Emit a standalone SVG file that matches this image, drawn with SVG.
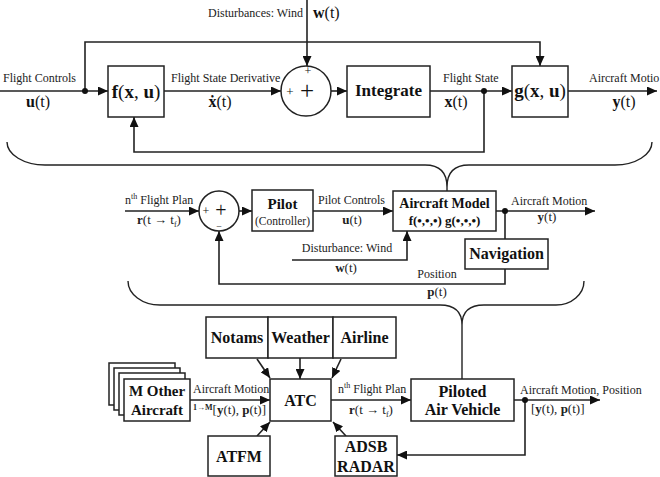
<svg xmlns="http://www.w3.org/2000/svg" width="660" height="477" viewBox="0 0 660 477">
<defs>
<marker id="ah" markerWidth="11" markerHeight="9" refX="10" refY="4.5" orient="auto" markerUnits="userSpaceOnUse">
<path d="M0,0 L10,4.5 L0,9 Z" fill="#111"/>
</marker>
<style>
.box{fill:#fff;stroke:#222;stroke-width:1.5}
.ln{fill:none;stroke:#222;stroke-width:1.6}
.ar{fill:none;stroke:#222;stroke-width:1.6;marker-end:url(#ah)}
.br{fill:none;stroke:#222;stroke-width:1.4}
.lab{font-family:"Liberation Serif",serif;font-size:12px;fill:#222}
.m{font-family:"Liberation Serif",serif;font-size:15px;fill:#111}
.b{font-weight:bold}
.bt{font-family:"Liberation Serif",serif;font-weight:bold;fill:#111;text-anchor:middle}
.dot{fill:#111}
</style>
</defs>
<rect width="660" height="477" fill="#fff"/>

<g id="connectors">
<path class="ar" d="M0,91 H108"/>
<path class="ar" d="M85,91 V42 H540 V66"/>
<path class="ar" d="M164,91 H281"/>
<path class="ar" d="M307,0 V66"/>
<path class="ar" d="M331,91 H347"/>
<path class="ar" d="M430,91 H512"/>
<path class="ar" d="M484,91 V152 H134 V117"/>
<path class="ar" d="M568,91 H657"/>
<circle class="dot" cx="85" cy="91" r="3"/>
<circle class="dot" cx="484" cy="91" r="3"/>
<path class="br" d="M7,142 A38,23 0 0 0 45,165 H425 Q447,165 447,187 V191 M447,187 Q447,165 469,165 H615 A37,23 0 0 0 652,142"/>
<path class="ar" d="M125,211 H199"/>
<path class="ar" d="M239,211 H252"/>
<path class="ar" d="M313,211 H393"/>
<path class="ar" d="M496,211 H595"/>
<path class="ln" d="M505,211 V239"/>
<path class="ar" d="M505,269 V284 H219 V231"/>
<path class="ar" d="M292,260 H407 V231"/>
<circle class="dot" cx="505" cy="211" r="3"/>
<path class="br" d="M128,281 A32,24 0 0 0 160,305 H440 Q462,305 462,325 V379 M462,325 Q462,305 484,305 H556 A28,24 0 0 0 584,281"/>
<path class="ar" d="M257,359 L270,378"/>
<path class="ar" d="M300,358 V379"/>
<path class="ar" d="M341,359 L332,378"/>
<path class="ar" d="M257,436 L270,422"/>
<path class="ar" d="M346,436 L333,422"/>
<path class="ar" d="M190,400 H270"/>
<path class="ar" d="M331,400 H411"/>
<path class="ar" d="M514,400 H600"/>
<path class="ar" d="M525,400 V455 H397"/>
<circle class="dot" cx="525" cy="400" r="3"/>
</g>

<g id="labels">
<text class="lab" x="3" y="82">Flight Controls</text>
<text class="m" x="38" y="107" text-anchor="middle" style="font-size:16px"><tspan class="b">u</tspan>(t)</text>
<text class="lab" x="171" y="82">Flight State Derivative</text>
<text class="m" x="220" y="107" text-anchor="middle" style="font-size:16px"><tspan class="b">ẋ</tspan>(t)</text>
<text class="lab" x="303" y="17" text-anchor="end">Disturbances: Wind</text>
<text class="m" x="313" y="18" style="font-size:16px"><tspan class="b">w</tspan>(t)</text>
<text class="lab" x="443" y="82">Flight State</text>
<text class="m" x="456" y="107" text-anchor="middle" style="font-size:16px"><tspan class="b">x</tspan>(t)</text>
<text class="lab" x="589" y="82">Aircraft Motio</text>
<text class="m" x="624" y="107" text-anchor="middle" style="font-size:16px"><tspan class="b">y</tspan>(t)</text>

<text class="lab" x="125" y="204">n<tspan font-size="8" dy="-5">th</tspan><tspan dy="5"> Flight Plan</tspan></text>
<text class="lab" x="159" y="224" text-anchor="middle" style="font-size:13px"><tspan class="b">r</tspan>(t → t<tspan font-size="8" dy="3">f</tspan><tspan dy="-3">)</tspan></text>
<text class="lab" x="318" y="204">Pilot Controls</text>
<text class="lab" x="352" y="224" text-anchor="middle" style="font-size:13px"><tspan class="b">u</tspan>(t)</text>
<text class="lab" x="511" y="205">Aircraft Motion</text>
<text class="lab" x="547" y="221" text-anchor="middle" style="font-size:13px"><tspan class="b">y</tspan>(t)</text>
<text class="lab" x="347" y="252" text-anchor="middle">Disturbance: Wind</text>
<text class="lab" x="346" y="272" text-anchor="middle" style="font-size:13px"><tspan class="b">w</tspan>(t)</text>
<text class="lab" x="437" y="278" text-anchor="middle">Position</text>
<text class="lab" x="437" y="296" text-anchor="middle" style="font-size:13px"><tspan class="b">p</tspan>(t)</text>

<text class="lab" x="193" y="393">Aircraft Motion</text>
<text class="lab" x="193" y="414" style="font-size:13px"><tspan class="b" font-size="8" dy="-4">1→M</tspan><tspan dy="4">[</tspan><tspan class="b">y</tspan>(t), <tspan class="b">p</tspan>(t)]</text>
<text class="lab" x="338" y="393">n<tspan font-size="8" dy="-5">th</tspan><tspan dy="5"> Flight Plan</tspan></text>
<text class="lab" x="371" y="414" text-anchor="middle" style="font-size:13px"><tspan class="b">r</tspan>(t → t<tspan font-size="8" dy="3">f</tspan><tspan dy="-3">)</tspan></text>
<text class="lab" x="520" y="394">Aircraft Motion, Position</text>
<text class="lab" x="531" y="413" style="font-size:13px">[<tspan class="b">y</tspan>(t), <tspan class="b">p</tspan>(t)]</text>
</g>

<g id="f_box">
<rect class="box" x="108" y="66" width="56" height="51"/>
<text class="m" x="136" y="98" text-anchor="middle" style="font-size:19px"><tspan class="b">f</tspan>(<tspan class="b">x</tspan>, <tspan class="b">u</tspan>)</text>
</g>
<g id="sum1">
<circle class="box" cx="306" cy="91" r="25"/>
<text class="m" x="307" y="99" text-anchor="middle" style="font-size:25px">+</text>
<text class="m" x="290" y="96" text-anchor="middle" style="font-size:13px">+</text>
<text class="m" x="308" y="75" text-anchor="middle" style="font-size:12px">+</text>
</g>
<g id="integrate">
<rect class="box" x="347" y="66" width="83" height="51"/>
<text class="bt" x="388.5" y="96" font-size="17">Integrate</text>
</g>
<g id="g_box">
<rect class="box" x="512" y="66" width="56" height="51"/>
<text class="m" x="540" y="97" text-anchor="middle" style="font-size:19px"><tspan class="b">g</tspan>(<tspan class="b">x</tspan>, <tspan class="b">u</tspan>)</text>
</g>

<g id="sum2">
<circle class="box" cx="219" cy="211" r="20"/>
<text class="m" x="221" y="217" text-anchor="middle" style="font-size:20px">+</text>
<text class="m" x="206" y="215" text-anchor="middle" style="font-size:12px">+</text>
<text class="m" x="219" y="230" text-anchor="middle" style="font-size:10px">−</text>
</g>
<g id="pilot">
<rect class="box" x="252" y="190" width="61" height="41"/>
<text class="bt" x="282.5" y="209" font-size="15">Pilot</text>
<text class="lab" x="282.5" y="225" text-anchor="middle" style="font-size:11.5px">(Controller)</text>
</g>
<g id="aircraft_model">
<rect class="box" x="393" y="191" width="103" height="40"/>
<text class="bt" x="444.5" y="208" font-size="14">Aircraft Model</text>
<text class="bt" x="444.5" y="225" font-size="13">f(•,•,•)  g(•,•,•)</text>
</g>
<g id="navigation">
<rect class="box" x="465" y="239" width="83" height="30"/>
<text class="bt" x="506.5" y="259" font-size="16">Navigation</text>
</g>

<g id="notams">
<rect class="box" x="206" y="317" width="62" height="41"/>
<text class="bt" x="237" y="343" font-size="16">Notams</text>
</g>
<g id="weather">
<rect class="box" x="268" y="317" width="65" height="41"/>
<text class="bt" x="300.5" y="343" font-size="16">Weather</text>
</g>
<g id="airline">
<rect class="box" x="333" y="317" width="63" height="41"/>
<text class="bt" x="364.5" y="343" font-size="16">Airline</text>
</g>
<g id="atc">
<rect class="box" x="270" y="379" width="61" height="42"/>
<text class="bt" x="300.5" y="406" font-size="16">ATC</text>
</g>
<g id="m_other_aircraft">
<rect class="box" x="109" y="363" width="66" height="42"/>
<rect class="box" x="114" y="368" width="66" height="42"/>
<rect class="box" x="119" y="373" width="66" height="42"/>
<rect class="box" x="124" y="379" width="66" height="42"/>
<text class="bt" x="157" y="396" font-size="15">M Other</text>
<text class="bt" x="157" y="415" font-size="15">Aircraft</text>
</g>
<g id="piloted_air_vehicle">
<rect class="box" x="411" y="379" width="103" height="42"/>
<text class="bt" x="462.5" y="397" font-size="16">Piloted</text>
<text class="bt" x="462.5" y="415" font-size="16">Air Vehicle</text>
</g>
<g id="atfm">
<rect class="box" x="208" y="436" width="62" height="40"/>
<text class="bt" x="239" y="462" font-size="16">ATFM</text>
</g>
<g id="adsb_radar">
<rect class="box" x="335" y="436" width="62" height="40"/>
<text class="bt" x="366" y="452" font-size="16">ADSB</text>
<text class="bt" x="366" y="472" font-size="16">RADAR</text>
</g>
</svg>
